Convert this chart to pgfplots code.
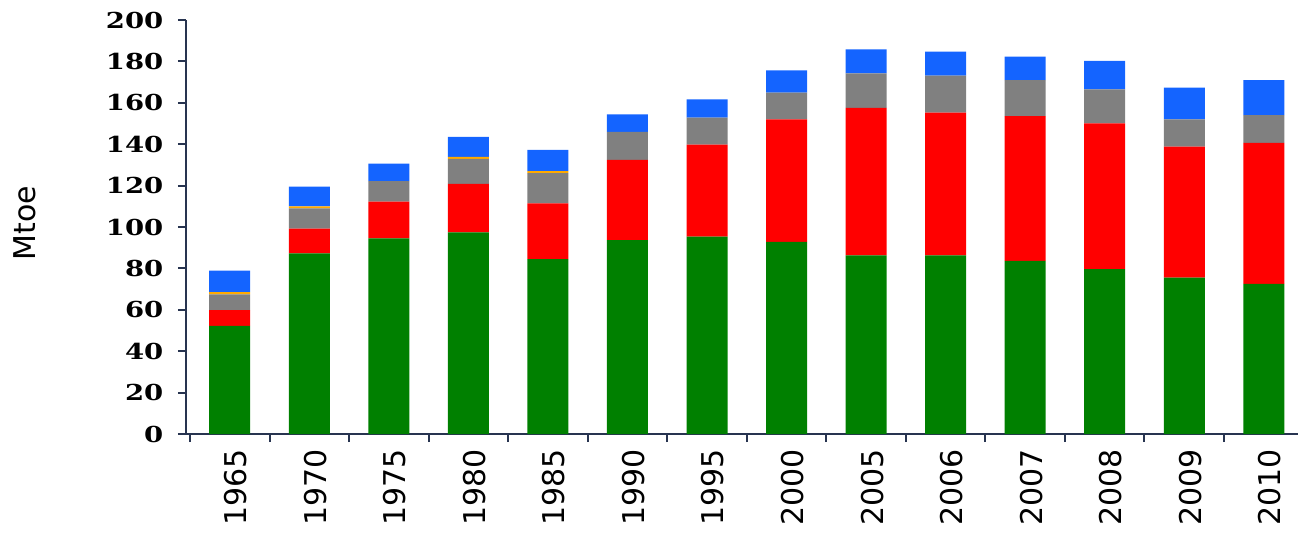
\documentclass[border=0pt]{standalone}
\usepackage{fontspec}
\setmainfont{DejaVu Sans}
\newfontfamily\yfont{DejaVu Serif}
\usepackage{graphicx}
\usepackage{pgfplots}
\usepackage{pgfplotstable}
\pgfplotsset{compat=1.18}

\definecolor{cgreen}{RGB}{0,128,0}
\definecolor{cred}{RGB}{255,0,0}
\definecolor{cgray}{RGB}{128,128,128}
\definecolor{corange}{RGB}{255,170,0}
\definecolor{cblue}{RGB}{20,100,255}
\definecolor{axiscol}{RGB}{40,52,80}

% year index, then stacked segments in Mtoe
\pgfplotstableread{
idx green red gray orange blue
0  52.2  7.6  7.7 1.0 10.4
1  87.3 11.9  9.8 1.0  9.5
2  94.5 17.7 10.0 0.0  8.4
3  97.4 23.4 12.1 1.0  9.6
4  84.5 26.9 14.6 1.0 10.2
5  93.7 38.7 13.6 0.0  8.4
6  95.3 44.5 13.0 0.0  8.9
7  92.8 59.2 12.9 0.0 10.8
8  86.3 71.3 16.6 0.0 11.6
9  86.3 68.9 17.9 0.0 11.6
10 83.6 70.0 17.4 0.0 11.3
11 79.7 70.4 16.4 0.0 13.8
12 75.5 63.3 13.2 0.0 15.3
13 72.5 68.2 13.4 0.0 16.9
}\energy

\begin{document}
\begin{tikzpicture}
\begin{axis}[
    name=main,
    scale only axis,
    width=556pt, height=207pt,
    ybar stacked,
    bar width=20.5pt,
    xmin=-0.55, xmax=13.43,
    ymin=0, ymax=200,
    axis x line*=bottom,
    axis y line*=left,
    axis line style={line width=1pt, color=axiscol},
    tick style={line width=1pt, color=axiscol},
    tick align=outside,
    major tick length=4pt,
    minor tick length=4pt,
    xtick={0,...,13},
    xticklabels={1965,1970,1975,1980,1985,1990,1995,2000,2005,2006,2007,2008,2009,2010},
    minor xtick={-0.5,0.5,...,12.5},
    every major x tick/.append style={draw=none},
    x tick label style={rotate=90, anchor=east, font=\fontsize{15}{18}\selectfont, yshift=-3pt},
    ytick={0,20,...,200},
    yticklabel={\scalebox{1.25}[1]{\pgfmathprintnumber[assume math mode=true]{\tick}}},
    y tick label style={font=\yfont\bfseries\fontsize{11}{13}\selectfont, xshift=-3.8pt},
    ylabel={Mtoe},
    ylabel style={at={(axis description cs:-0.145,0.51)}, anchor=center, font=\fontsize{15}{18}\selectfont},
]
\addplot[fill=cgreen, draw=none] table[x=idx, y=green] {\energy};
\addplot[fill=cred, draw=none] table[x=idx, y=red] {\energy};
\addplot[fill=cgray, draw=none] table[x=idx, y=gray] {\energy};
\addplot[fill=corange, draw=none] table[x=idx, y=orange] {\energy};
\addplot[fill=cblue, draw=none] table[x=idx, y=blue] {\energy};
\end{axis}
\pgfresetboundingbox
\path[use as bounding box] ([shift={(-93pt,-53.5pt)}]main.south west) rectangle ([shift={(0pt,10pt)}]main.north east);
\end{tikzpicture}
\end{document}
